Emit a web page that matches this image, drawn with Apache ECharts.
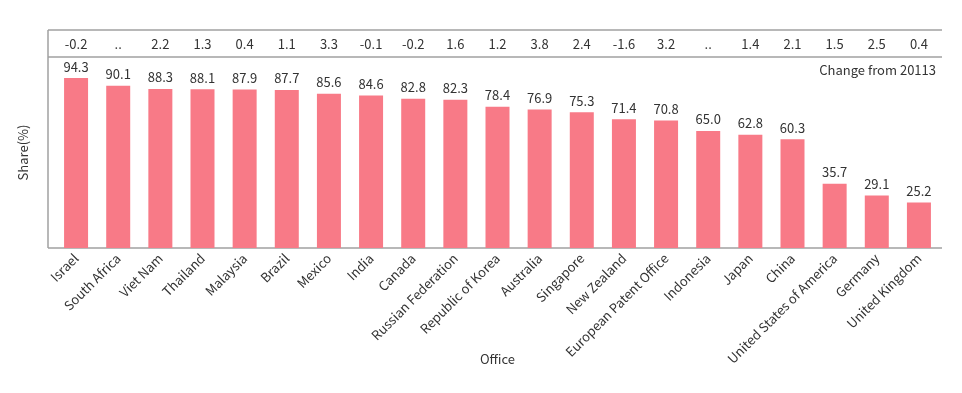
<!DOCTYPE html>
<html><head><meta charset="utf-8">
<script src="https://cdn.jsdelivr.net/npm/echarts@6/dist/echarts.min.js"></script>
<style>html,body{margin:0;padding:0;background:#fff}#c{width:962px;height:393px}</style>
</head><body><div id="c"></div>
<script>
const categories = ["Israel","South Africa","Viet Nam","Thailand","Malaysia","Brazil","Mexico","India","Canada","Russian Federation","Republic of Korea","Australia","Singapore","New Zealand","European Patent Office","Indonesia","Japan","China","United States of America","Germany","United Kingdom"];
const shareValues = [94.3,90.1,88.3,88.1,87.9,87.7,85.6,84.6,82.8,82.3,78.4,76.9,75.3,71.4,70.8,65.0,62.8,60.3,35.7,29.1,25.2];
const changeLabels = ["-0.2","..","2.2","1.3","0.4","1.1","3.3","-0.1","-0.2","1.6","1.2","3.8","2.4","-1.6","3.2","..","1.4","2.1","1.5","2.5","0.4"];
const noteText = "Change from 20113";

const FONT = '"Noto Sans CJK KR", "Noto Sans", sans-serif';
const FS = 13;
const chart = echarts.init(document.getElementById('c'), null, {renderer:'canvas'});
const lineStyle = {stroke:'#a0a0a0', lineWidth:1.5};
chart.setOption({
  animation:false,
  textStyle:{fontFamily:FONT},
  grid:{left:55, right:22, top:57, bottom:145, containLabel:false},
  xAxis:[{
    type:'category', data:categories, position:'bottom',
    axisLine:{show:false}, axisTick:{show:false},
    axisLabel:{rotate:45, interval:0, fontSize:FS, color:'#333', fontFamily:FONT, margin:8},
    name:'Office', nameLocation:'middle', nameGap:105, nameMoveOverlap:false,
    nameTextStyle:{fontSize:FS, color:'#333', fontFamily:FONT}
  },{
    type:'category', data:changeLabels, position:'top',
    axisLine:{show:false}, axisTick:{show:false},
    axisLabel:{interval:0, fontSize:FS, color:'#333', fontFamily:FONT, margin:6}
  }],
  yAxis:{
    type:'value', min:0, max:106,
    axisLine:{show:false}, axisTick:{show:false}, axisLabel:{show:false}, splitLine:{show:false},
    name:'Share(%)', nameLocation:'middle', nameGap:25, nameRotate:90,
    nameTextStyle:{fontSize:FS, color:'#333', fontFamily:FONT}
  },
  series:[{
    type:'bar', data:shareValues, barWidth:24,
    itemStyle:{color:'#f87a87'},
    label:{show:true, position:'top', fontSize:FS, color:'#333', fontFamily:FONT, distance:5,
      formatter:p=>p.value.toFixed(1)}
  }],
  graphic:[
    {type:'line', shape:{x1:48,y1:30,x2:942,y2:30}, style:lineStyle, silent:true},
    {type:'line', shape:{x1:48,y1:57,x2:942,y2:57}, style:lineStyle, silent:true},
    {type:'line', shape:{x1:48,y1:248,x2:942,y2:248}, style:lineStyle, silent:true},
    {type:'line', shape:{x1:48,y1:30,x2:48,y2:248}, style:lineStyle, silent:true},
    {type:'text', right:26, top:64, style:{text:noteText, fill:'#333', font:FS+'px '+FONT}}
  ]
});
</script></body></html>
